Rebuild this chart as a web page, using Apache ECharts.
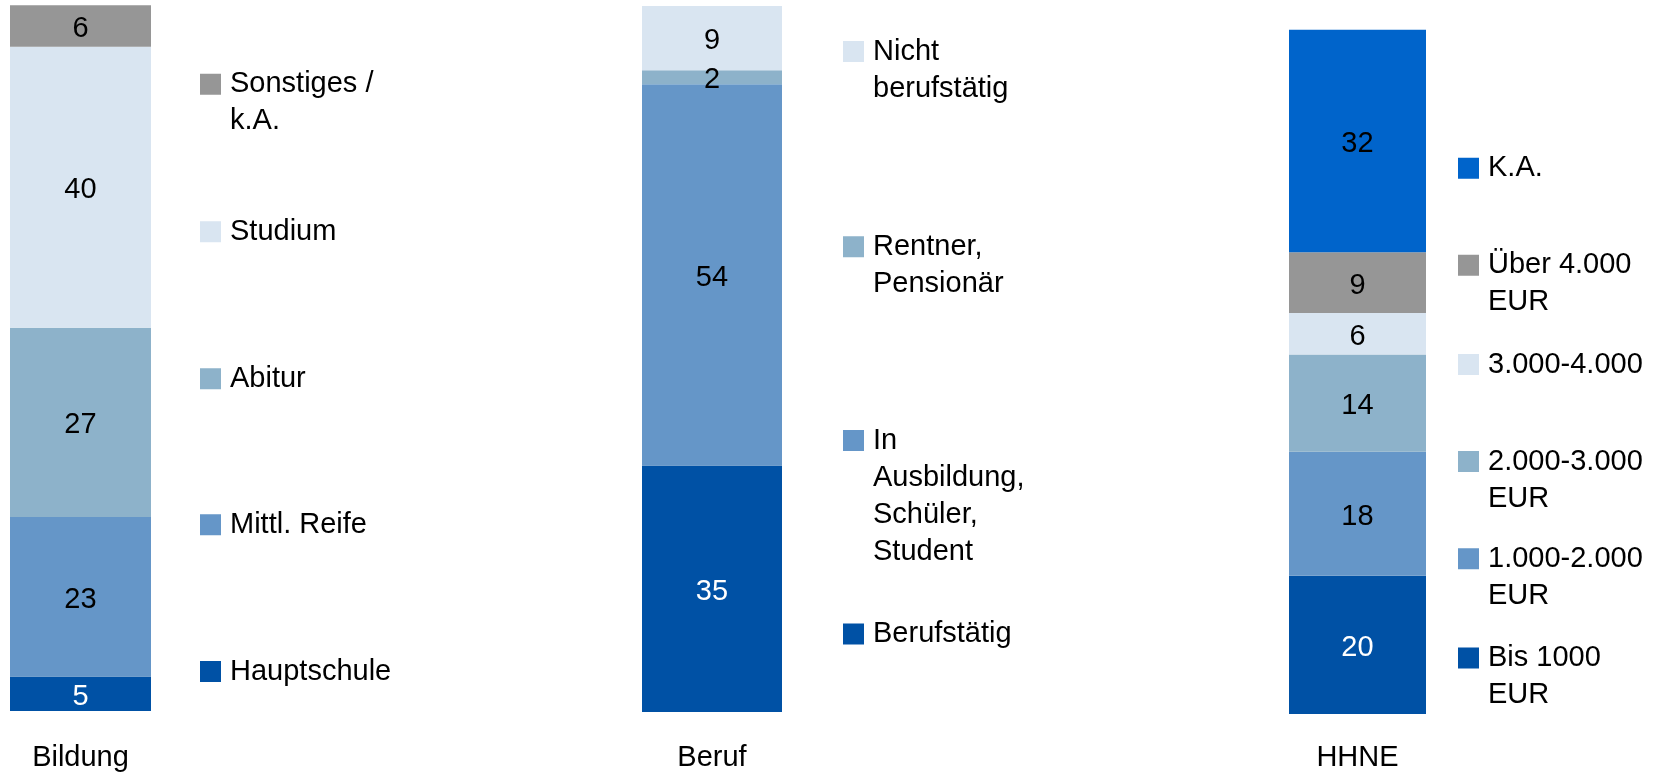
<!DOCTYPE html>
<html lang="de">

<head>
    <meta charset="UTF-8">
    <title>Bildung / Beruf / HHNE</title>
    <style>
        html, body { margin: 0; padding: 0; background: #fff; }
        #app { width: 1664px; height: 776px; }
    </style>
</head>

<body>
    <div id="app"></div>
</body>
<script src="https://cdn.jsdelivr.net/npm/echarts@6/dist/echarts.min.js"></script>
<script>
    // categories (one bar per grid)
    var categories = ['Bildung', 'Beruf', 'HHNE'];

    // stacked from bottom to top
    var bildungNames = ['Hauptschule', 'Mittl. Reife', 'Abitur', 'Studium', 'Sonstiges /\nk.A.'];
    var bildungValues = [4.9, 22.6, 26.8, 39.8, 5.9];

    var berufNames = ['Berufstätig', 'In\nAusbildung,\nSchüler,\nStudent', 'Rentner,\nPensionär', 'Nicht\nberufstätig'];
    var berufValues = [34.9, 54.0, 2.0, 9.2];

    var hhneNames = ['Bis 1000\nEUR', '1.000-2.000\nEUR', '2.000-3.000\nEUR', '3.000-4.000', 'Über 4.000\nEUR', 'K.A.'];
    var hhneValues = [19.6, 17.6, 13.8, 5.9, 8.6, 31.6];

    var dark = '#0051A5', mid = '#6596C8', grey = '#8DB2CA', light = '#D9E5F1', gray = '#969696', bright = '#0064CB';
    var bildungColors = [dark, mid, grey, light, gray];
    var berufColors = [dark, mid, grey, light];
    var hhneColors = [dark, mid, grey, light, gray, bright];

    var font = 'Liberation Sans, Arial, sans-serif';
    var fontSize = 29;
    var lineH = 37;

    // legend icon centers (y) and left edge per chart, listed bottom to top like the stacks
    var panels = [
        { names: bildungNames, values: bildungValues, colors: bildungColors,
          grid: { left: 10, top: 5.2, width: 141, height: 706.5 }, margin: 28,
          legendLeft: 200, legendY: [671.5, 524.8, 378.7, 231.7, 84.2] },
        { names: berufNames, values: berufValues, colors: berufColors,
          grid: { left: 642, top: 6, width: 140, height: 706.5 }, margin: 27,
          legendLeft: 843, legendY: [633.9, 440.6, 246.8, 51.5] },
        { names: hhneNames, values: hhneValues, colors: hhneColors,
          grid: { left: 1289, top: 9.2, width: 137, height: 706.5 }, margin: 25,
          legendLeft: 1458, legendY: [658, 558.7, 461.6, 364.6, 265.3, 168.3] }
    ];

    var grids = [], xAxes = [], yAxes = [], series = [], legends = [];

    panels.forEach(function (p, gi) {
        grids.push(p.grid);
        xAxes.push({
            type: 'category',
            gridIndex: gi,
            data: [categories[gi]],
            axisLine: { show: false },
            axisTick: { show: false },
            axisLabel: { color: '#000', fontSize: fontSize, fontFamily: font, lineHeight: lineH, margin: p.margin }
        });
        yAxes.push({
            type: 'value',
            gridIndex: gi,
            min: 0,
            max: 100,
            show: false
        });
        p.names.forEach(function (name, i) {
            series.push({
                type: 'bar',
                name: name,
                xAxisIndex: gi,
                yAxisIndex: gi,
                stack: 'g' + gi,
                barWidth: '100%',
                data: [p.values[i]],
                itemStyle: { color: p.colors[i] },
                label: {
                    show: true,
                    position: 'inside',
                    offset: [0, 3],
                    fontSize: fontSize,
                    fontFamily: font,
                    color: i === 0 ? '#fff' : '#000',
                    formatter: function (param) {
                        return Math.round(param.value);
                    }
                }
            });
            // square at top of a taller icon box so the first text line sits beside it
            var lines = name.split('\n').length;
            var h = 21 + (lines - 1) * lineH;
            legends.push({
                left: p.legendLeft,
                top: p.legendY[i] - lineH / 2,
                padding: 0,
                orient: 'vertical',
                selectedMode: false,
                itemWidth: 21,
                itemHeight: h,
                icon: 'path://M0,0L21,0L21,21L0,21Z M0,' + h + 'L21,' + h + 'Z',
                data: [name],
                textStyle: { color: '#000', fontSize: fontSize, fontFamily: font, lineHeight: lineH, padding: [0, 0, 0, 4] }
            });
        });
    });

    var chart = echarts.init(document.getElementById('app'));
    chart.setOption({
        animation: false,
        grid: grids,
        xAxis: xAxes,
        yAxis: yAxes,
        legend: legends,
        series: series
    });
</script>

</html>
